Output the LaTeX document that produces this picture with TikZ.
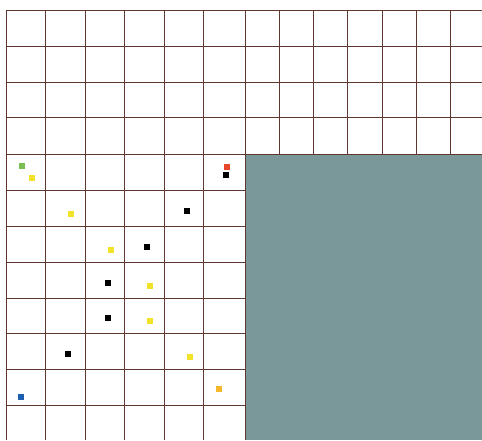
\documentclass[tikz,border=0pt]{standalone}
\begin{document}
\begin{tikzpicture}[x=1pt,y=-1pt,
  gridline/.style={draw=gridc,line width=0.9pt},
  dot/.style={minimum size=6pt,inner sep=0pt,outer sep=0pt,draw=none,rectangle}]
\definecolor{gridc}{RGB}{95,55,48}
\definecolor{teal}{RGB}{122,151,153}
\definecolor{dgreen}{RGB}{120,190,80}
\definecolor{dyellow}{RGB}{242,226,40}
\definecolor{dred}{RGB}{232,70,42}
\definecolor{dblue}{RGB}{30,95,176}
\definecolor{dorange}{RGB}{245,184,42}
\useasboundingbox[fill=white] (0,0) rectangle (482,440);
% verticals
\foreach \x in {6,45.5,85.5,124.5,164,203.5,245}
  \draw[gridline] (\x,10) -- (\x,440);
\foreach \x in {279.7,313.7,347.7,382,416.3,450.3}
  \draw[gridline] (\x,10) -- (\x,154);
% horizontals
\foreach \y in {10,46,82,117.7,154}
  \draw[gridline] (6,\y) -- (482,\y);
\foreach \y in {190.3,226.3,262.3,298,333.7,369.7,405.3}
  \draw[gridline] (6,\y) -- (245,\y);
% teal block
\fill[teal] (245.5,154.5) rectangle (482,440);
% dots
\node[dot,fill=dgreen] (g1) at (22.3,165.7) {};
\node[dot,fill=dyellow] (y1) at (32,177.7) {};
\node[dot,fill=dred] (r1) at (227.3,167) {};
\node[dot,fill=black] (b1) at (226.3,175) {};
\node[dot,fill=dyellow] (y2) at (71.3,213.7) {};
\node[dot,fill=black] (b2) at (187,211) {};
\node[dot,fill=dyellow] (y3) at (111,249.7) {};
\node[dot,fill=black] (b3) at (147.3,246.7) {};
\node[dot,fill=black] (b4) at (108,282.7) {};
\node[dot,fill=dyellow] (y4) at (150.3,285.7) {};
\node[dot,fill=black] (b5) at (108,318.3) {};
\node[dot,fill=dyellow] (y5) at (150.3,321.3) {};
\node[dot,fill=black] (b6) at (68.3,354) {};
\node[dot,fill=dyellow] (y6) at (189.7,357.3) {};
\node[dot,fill=dblue] (bl1) at (21.3,396.7) {};
\node[dot,fill=dorange] (o1) at (219.3,389) {};
\end{tikzpicture}
\end{document}
